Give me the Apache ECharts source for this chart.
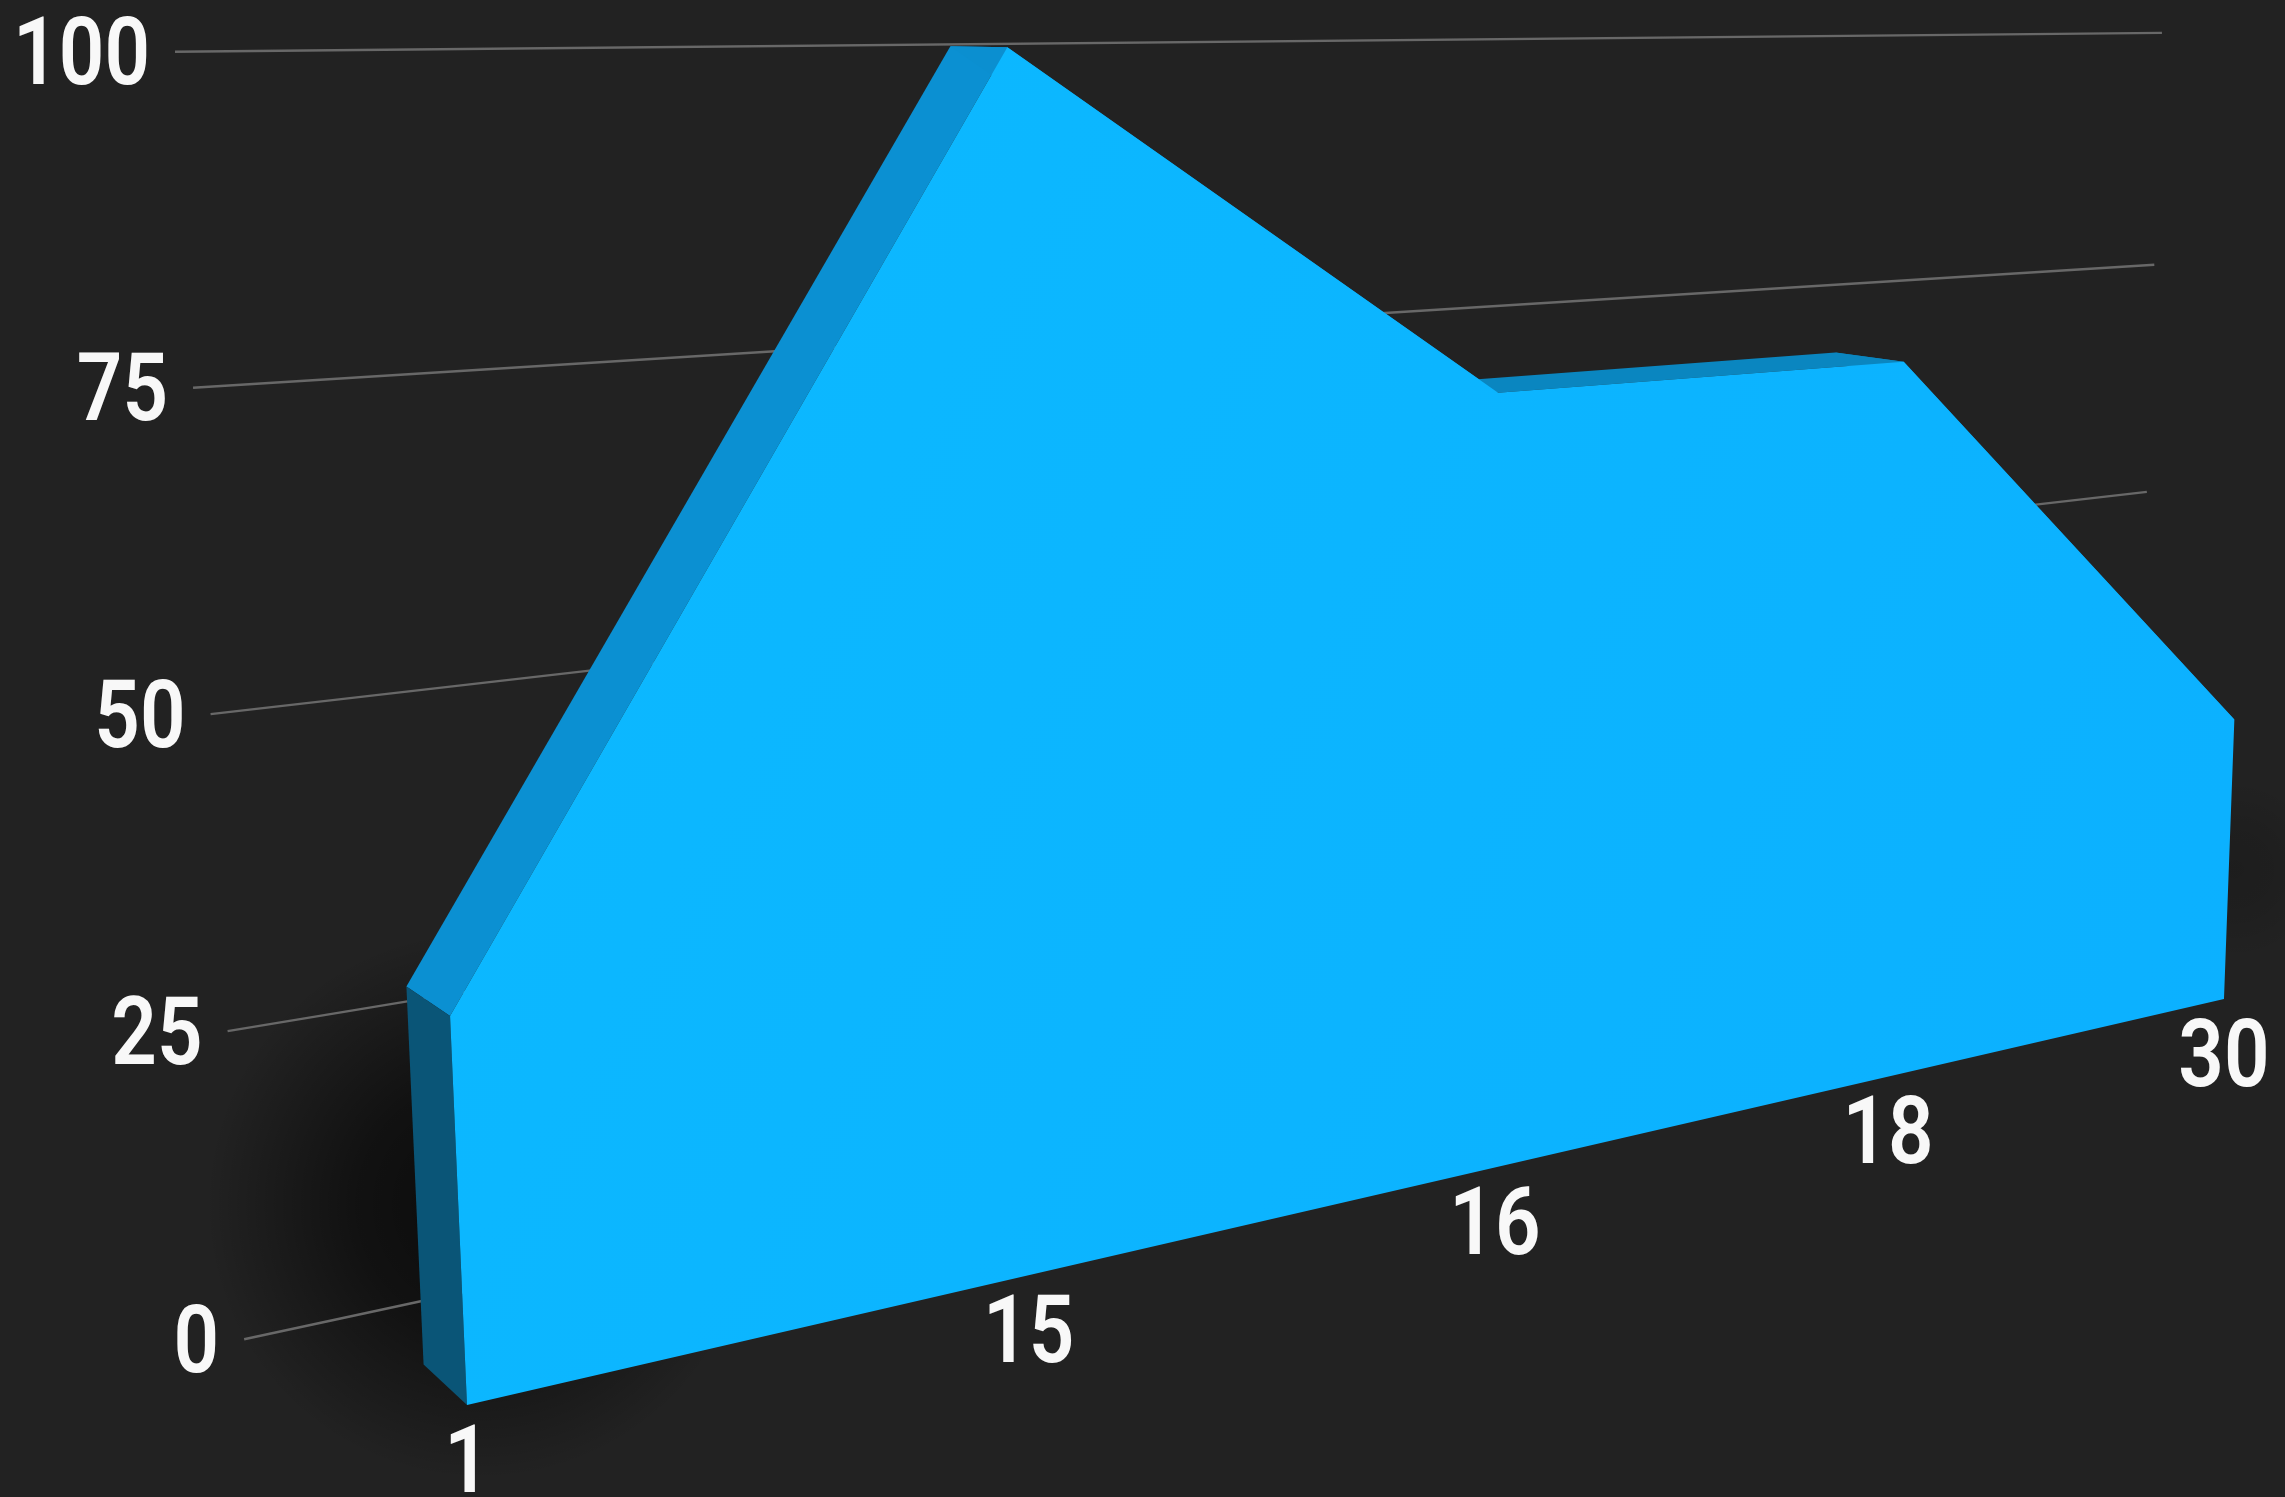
<!DOCTYPE html>
<html>
<head>
<meta charset="utf-8">
<style>html,body{margin:0;padding:0;background:#222222;}#c{width:2285px;height:1497px;}</style>
<script src="https://cdn.jsdelivr.net/npm/echarts@6/dist/echarts.min.js"></script>
</head>
<body>
<div id="c"></div>
<script>
// Data
var categories = ['1', '15', '16', '18', '30'];
var values = [30, 100, 70, 70, 30];
var yTicks = [0, 25, 50, 75, 100];

// Perspective camera: maps the flat grid (u,v in 0..1) and a depth d to the screen
var CAM = {
  x0: 467, xu: 2668.8, xv: -83,
  y0: 1405, yu: 3.6, yv: -1356.7,
  wu: 0.41, wv: -0.059,
  dw: 0.0305, vpX: -1000, vpY: 40, tilt: -3
};
var DEPTH_SOLID = 1, DEPTH_WALL = 2.38;
var WALL_U_MIN = -0.0516, WALL_U_MAX = 1.0547;

function project(u, v, d) {
  var k = d * CAM.dw;
  var w = 1 + CAM.wu * u + CAM.wv * v + k;
  return [
    (CAM.x0 + CAM.xu * u + CAM.xv * v + k * CAM.vpX) / w,
    (CAM.y0 + (CAM.yu + d * CAM.tilt) * u + CAM.yv * v + k * CAM.vpY) / w
  ];
}
function uv(params, api, cat, val) {
  var r = params.coordSys, p = api.coord([cat, val]);
  return [(p[0] - r.x) / r.width, (r.y + r.height - p[1]) / r.height];
}
function at(params, api, cat, val, d) {
  var q = uv(params, api, cat, val);
  return project(q[0], q[1], d);
}

var FONT = 'Roboto, "Noto Sans", sans-serif';
function label(txt, x, y, align) {
  return {
    type: 'text', x: x, y: y, scaleX: 0.85, silent: true,
    style: {
      text: txt, fill: '#f8f8f8', fontFamily: FONT, fontSize: 94, fontWeight: 600,
      align: align, verticalAlign: 'middle'
    }
  };
}

// shadow blobs under everything
function renderShadow(params, api) {
  if (params.dataIndex !== 0) return null;
  var a = at(params, api, 0, 4, DEPTH_WALL);
  var b = project(1.0, 0.14, 0);
  function blob(c, r, alpha) {
    return {
      type: 'circle', silent: true,
      shape: { cx: c[0], cy: c[1], r: r },
      style: {
        fill: {
          type: 'radial', x: 0.5, y: 0.5, r: 0.5,
          colorStops: [
            { offset: 0, color: 'rgba(0,0,0,' + alpha + ')' },
            { offset: 0.45, color: 'rgba(0,0,0,' + alpha * 0.72 + ')' },
            { offset: 1, color: 'rgba(0,0,0,0)' }
          ]
        }
      }
    };
  }
  return {
    type: 'group',
    children: [
      blob([a[0] + 115, a[1] - 60], 275, 0.68),
      blob([b[0] + 6, b[1]], 90, 0.14)
    ]
  };
}

// gridlines and value labels on the back wall
function renderWall(params, api) {
  var val = api.value(0);
  var v = uv(params, api, 0, val)[1];
  var a = project(WALL_U_MIN, v, DEPTH_WALL);
  var b = project(WALL_U_MAX, v, DEPTH_WALL);
  return {
    type: 'group',
    children: [
      {
        type: 'line', silent: true,
        shape: { x1: a[0], y1: a[1], x2: b[0], y2: b[1] },
        style: { stroke: '#686868', lineWidth: 2.4 }
      },
      label(String(val), a[0] - 25, a[1] + 9, 'right')
    ]
  };
}

var TOP_COLORS = ['#0b90d2', '#0b8fd0', '#0a86c0', '#0a86c0'];
// extruded top faces and the near side of the solid
function renderSolid(params, api) {
  var i = params.dataIndex;
  if (i === values.length - 1) {
    return {
      type: 'polygon', silent: true,
      shape: {
        points: [
          at(params, api, 0, 0, 0), at(params, api, 0, api.value(1, 0), 0),
          at(params, api, 0, api.value(1, 0), DEPTH_SOLID), at(params, api, 0, 0, DEPTH_SOLID)
        ]
      },
      style: { fill: '#0a5577' }
    };
  }
  return {
    type: 'polygon', silent: true,
    shape: {
      points: [
        at(params, api, i, api.value(1), 0), at(params, api, i + 1, api.value(1, i + 1), 0),
        at(params, api, i + 1, api.value(1, i + 1), DEPTH_SOLID), at(params, api, i, api.value(1), DEPTH_SOLID)
      ]
    },
    style: { fill: TOP_COLORS[i] }
  };
}

// front face
function renderFront(params, api) {
  if (params.dataIndex !== 0) return null;
  var pts = [at(params, api, 0, 0, 0)];
  for (var i = 0; i < values.length; i++) pts.push(at(params, api, i, api.value(1, i), 0));
  pts.push(at(params, api, values.length - 1, 0, 0));
  return {
    type: 'polygon', silent: true,
    shape: { points: pts },
    style: {
      fill: {
        type: 'linear', x: 0, y: 0.2, x2: 1, y2: 0.9,
        colorStops: [{ offset: 0, color: '#0cb9ff' }, { offset: 1, color: '#0cb0ff' }]
      }
    }
  };
}

// soft contact shadow along the floor edge
function renderEdge(params, api) {
  if (params.dataIndex !== 0) return null;
  var a = at(params, api, 0, 0, 0), b = at(params, api, values.length - 1, 0, 0);
  return {
    type: 'line', silent: true,
    shape: { x1: a[0], y1: a[1] - 3, x2: b[0], y2: b[1] - 3 },
    style: { stroke: 'rgba(0,0,0,0.2)', lineWidth: 3, shadowBlur: 30, shadowColor: 'rgba(0,0,0,0.22)' }
  };
}

// category labels on the floor edge
function renderCat(params, api) {
  var i = params.dataIndex;
  var p = at(params, api, i, 0, 0);
  return label(categories[i], p[0], p[1] + 63, 'center');
}

var pairs = values.map(function (v, i) { return [i, v]; });
var chart = echarts.init(document.getElementById('c'));
chart.setOption({
  backgroundColor: '#222222',
  animation: false,
  tooltip: { show: false },
  grid: { left: 0, right: 0, top: 0, bottom: 0 },
  xAxis: { type: 'category', data: categories, boundaryGap: false, show: false },
  yAxis: { type: 'value', min: 0, max: 100, interval: 25, show: false },
  series: [
    { type: 'custom', z: 1, renderItem: renderShadow, encode: { x: 0, y: 1 }, data: pairs },
    { type: 'custom', z: 2, renderItem: renderWall, encode: { y: 0 }, data: yTicks.map(function (t) { return [t]; }) },
    { type: 'custom', z: 3, renderItem: renderEdge, encode: { x: 0, y: 1 }, data: pairs },
    { type: 'custom', z: 4, renderItem: renderSolid, encode: { x: 0, y: 1 }, data: pairs },
    { type: 'custom', z: 5, renderItem: renderFront, encode: { x: 0, y: 1 }, data: pairs },
    { type: 'custom', z: 6, renderItem: renderCat, encode: { x: 0, y: 1 }, data: pairs }
  ]
});
</script>
</body>
</html>
